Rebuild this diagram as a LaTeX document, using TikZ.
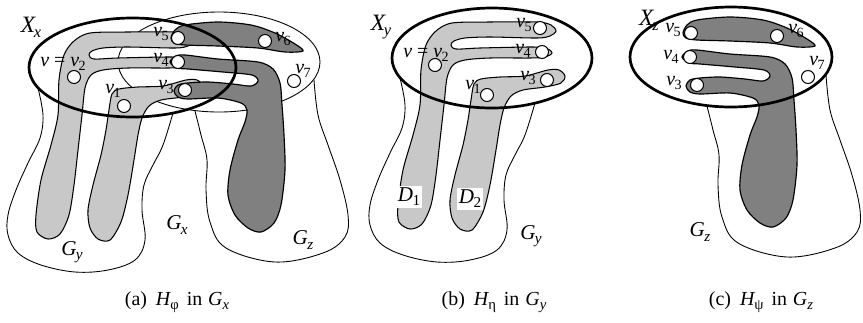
\documentclass[tikz,border=0pt]{standalone}
\usepackage{fontspec}
\setmainfont{Liberation Serif}
\definecolor{lgrey}{RGB}{200,200,200}
\definecolor{dgrey}{RGB}{128,128,128}
\newcommand\vlab[1]{{\fontsize{17}{17}\selectfont\itshape v}\kern-0.5pt\raisebox{-3pt}{\fontsize{12}{12}\selectfont #1}}
\newcommand\veq{{\fontsize{17}{17}\selectfont\itshape v\upshape\ = }\vlab{2}}
\newcommand\Xlab[1]{{\fontsize{20}{20}\selectfont\itshape X}\kern-1pt\raisebox{-4pt}{\fontsize{14}{14}\selectfont\itshape #1}}
\newcommand\Glab[1]{{\fontsize{18}{18}\selectfont\itshape G}\kern-0.5pt\raisebox{-3.5pt}{\fontsize{13}{13}\selectfont\itshape #1}}
\newcommand\Dlab[1]{{\fontsize{18}{18}\selectfont\itshape D}\kern-0.5pt\raisebox{-3.5pt}{\fontsize{13}{13}\selectfont #1}}
\newcommand\figcap[3]{\fontsize{17}{17}\selectfont (#1)\hspace{0.45em}{\itshape H}\raisebox{-3.5pt}{\fontsize{12.5}{12.5}\selectfont #2}\hspace{0.4em}in\hspace{0.3em}{\itshape G}\raisebox{-3.5pt}{\fontsize{12.5}{12.5}\selectfont\itshape #3}}
% shapes of panel (b), in panel (b) coordinates
\newcommand\drawGyOutline{\draw[outl] plot[smooth, tension=0.6] coordinates {(400,78) (405,105) (402,128) (390,153) (378,180) (370,205) (370,225) (380,243) (403,255) (437,262) (470,260) (497,250) (507,230) (504,200) (506,175) (515,155) (525,135) (535,103)};}
\newcommand\drawDone{\path[lg] plot[smooth cycle, tension=0.5] coordinates {(398,205) (403,170) (413,135) (420,105) (421,70) (426,45) (436,31) (452,23) (490,22) (537,22) (551,25) (556,31) (550,36) (537,38) (490,37) (465,38) (454,41) (451,45) (456,49) (480,48) (530,47) (546,48) (552,53) (545,57) (530,58) (490,58) (465,60) (453,65) (447,78) (444,105) (440,140) (436,175) (431,205) (422,224) (410,229) (399,222)};}
\newcommand\drawDtwo{\path[lg] plot[smooth cycle, tension=0.5] coordinates {(471,100) (468,120) (463,145) (455,175) (450,200) (452,218) (460,229) (472,230) (483,212) (490,185) (496,150) (500,125) (504,108) (511,96) (523,90) (545,87) (561,83) (565,76) (559,70) (548,70) (525,76) (500,77) (481,79) (474,84)};}
% shapes of panel (c), in panel (c) coordinates
\newcommand\drawGzOutline{\draw[outl] plot[smooth, tension=0.6] coordinates {(707,106) (713,130) (719,155) (718,185) (722,217) (738,243) (787,257) (835,248) (857,232) (860,210) (852,175) (840,140) (830,110) (826,75)};}
\newcommand\drawTop{\path[dg] plot[smooth cycle, tension=0.5] coordinates {(683,33) (687,25) (697,20) (730,17) (763,20) (787,28) (807,39) (815,46) (797,47) (770,43) (730,41) (697,40) (686,38)};}
\newcommand\drawLow{\path[dg] plot[smooth cycle, tension=0.5] coordinates {(682,57) (688,51) (697,50) (730,54) (770,57) (785,64) (792,78) (794,100) (796,130) (797,165) (793,200) (786,218) (773,227) (760,223) (747,210) (740,190) (742,165) (750,135) (757,117) (759,105) (753,98) (730,93) (700,94) (690,92) (686,86) (690,80) (700,78) (720,77) (745,79) (763,81) (770,76) (764,70) (735,67) (700,64) (689,63)};}
\begin{document}
\begin{tikzpicture}[x=0.03cm,y=-0.03cm,
  lg/.style={fill=lgrey, draw=black, line width=0.9pt},
  dg/.style={fill=dgrey, draw=black, line width=1pt},
  outl/.style={draw=black, line width=0.75pt},
  sep/.style={draw=black, line width=2.3pt},
  thinsep/.style={draw=black, line width=0.75pt},
  vert/.style={draw=black, fill=white, line width=0.9pt},
  lbl/.style={inner sep=0pt},
  boxlbl/.style={fill=white, inner sep=1.5pt}]
\useasboundingbox[fill=white] (0,0) rectangle (863,322);

% ---------------- panel (a) ----------------
\begin{scope}[shift={(-362,10)}]
  \drawGyOutline
\end{scope}
\begin{scope}[shift={(-512,5)}]
  \drawGzOutline
\end{scope}
\draw[thinsep] (219,62) ellipse [x radius=3.03cm, y radius=1.5cm];
\begin{scope}[shift={(-362,10)}]
  \drawDone
  \drawDtwo
\end{scope}
\begin{scope}[shift={(-512,5)}]
  \drawTop
  \drawLow
\end{scope}
\foreach \p in {(178,38), (178,62), (185,90), (74,77), (124,106), (265,41), (294,81)}
  \draw[vert] \p circle [radius=0.195cm];
\draw[sep] (132.5,67.5) ellipse [x radius=3.105cm, y radius=1.485cm];
\node[lbl] (Xx) at (31,27) {\Xlab{x}};
\node[lbl] (veqa) at (63,64) {\veq};
\node[lbl] (v5a) at (161,34) {\vlab{5}};
\node[lbl] (v4a) at (161,60) {\vlab{4}};
\node[lbl] (v3a) at (166,87) {\vlab{3}};
\node[lbl] (v1a) at (113,91) {\vlab{1}};
\node[lbl] (v6a) at (283,39) {\vlab{6}};
\node[lbl] (v7a) at (303,71) {\vlab{7}};
\node[lbl] (Gya) at (72,252) {\Glab{y}};
\node[lbl] (Gxa) at (177,225) {\Glab{x}};
\node[lbl] (Gza) at (303,240) {\Glab{z}};
\node[lbl] (capa) at (177,302) {\figcap{a}{φ}{x}};

% ---------------- panel (b) ----------------
\drawGyOutline
\drawDone
\drawDtwo
\foreach \p in {(540,28), (542,52), (547,80), (435,65), (487,95)}
  \draw[vert] \p circle [radius=0.195cm];
\draw[sep] (492,58) ellipse [x radius=3.0cm, y radius=1.5cm];
\node[lbl] (Xy) at (381,27) {\Xlab{y}};
\node[lbl] (veqb) at (426,55) {\veq};
\node[lbl] (v5b) at (524,25) {\vlab{5}};
\node[lbl] (v4b) at (523,51) {\vlab{4}};
\node[lbl] (v3b) at (528,78) {\vlab{3}};
\node[lbl] (v1b) at (473,87) {\vlab{1}};
\node[boxlbl] (D1) at (409,197) {\Dlab{1}};
\node[boxlbl] (D2) at (470,199) {\Dlab{2}};
\node[lbl] (Gyb) at (531,236) {\Glab{y}};
\node[lbl] (capb) at (494,302) {\figcap{b}{η}{y}};

% ---------------- panel (c) ----------------
\drawGzOutline
\drawTop
\drawLow
\foreach \p in {(691,33), (690,57), (697,85), (777,36), (808,77)}
  \draw[vert] \p circle [radius=0.195cm];
\draw[sep] (731,57) ellipse [x radius=3.03cm, y radius=1.5cm];
\node[lbl] (Xz) at (649,20) {\Xlab{z}};
\node[lbl] (v5c) at (673,30) {\vlab{5}};
\node[lbl] (v4c) at (671,57) {\vlab{4}};
\node[lbl] (v3c) at (674,83) {\vlab{3}};
\node[lbl] (v6c) at (796,31) {\vlab{6}};
\node[lbl] (v7c) at (817,63) {\vlab{7}};
\node[lbl] (Gzc) at (700,232) {\Glab{z}};
\node[lbl] (capc) at (761,302) {\figcap{c}{ψ}{z}};
\end{tikzpicture}
\end{document}
